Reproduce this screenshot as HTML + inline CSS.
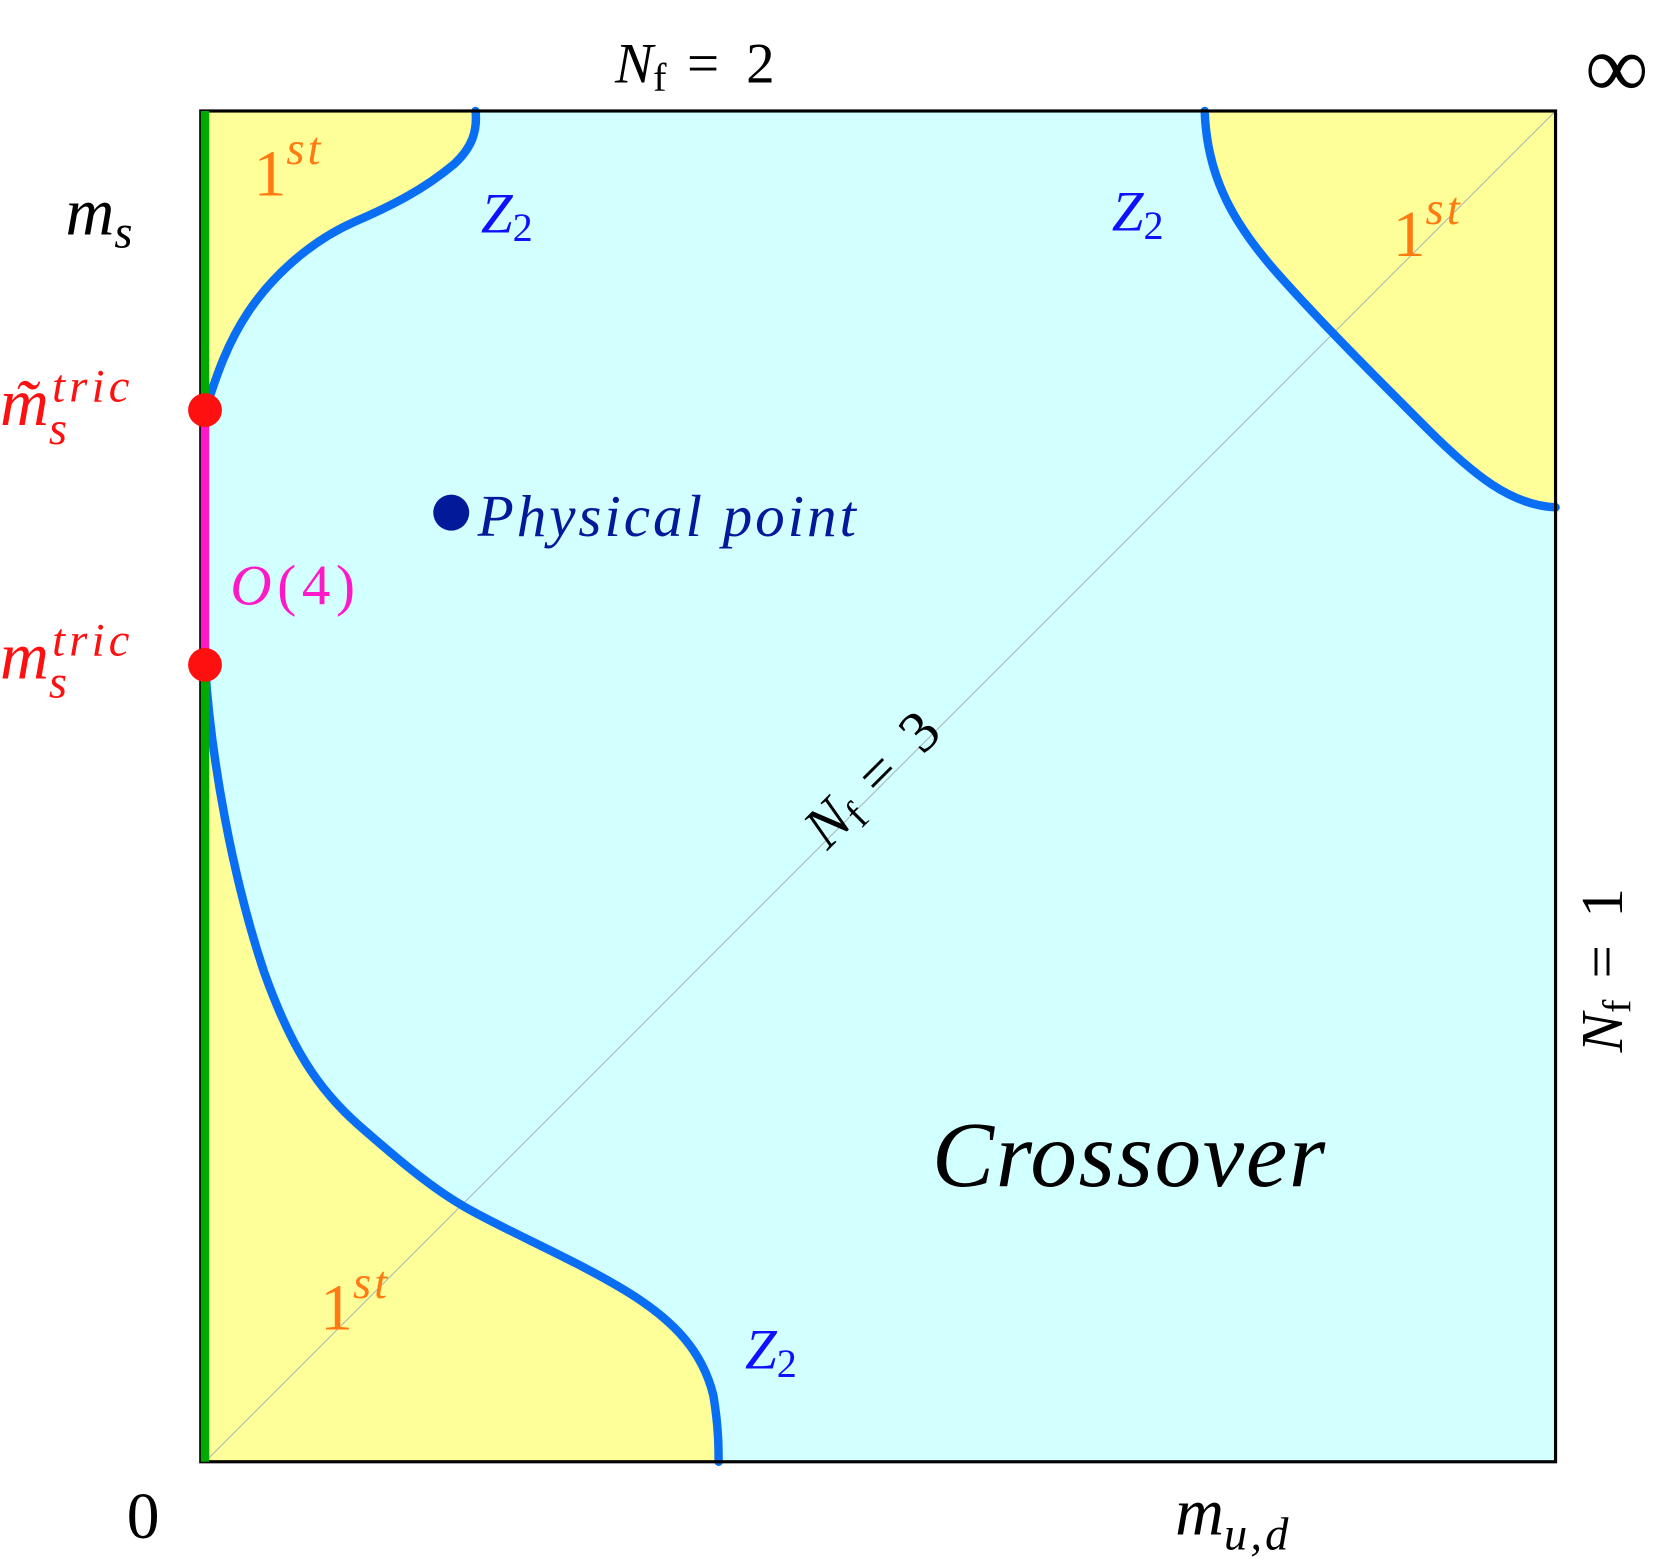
<!DOCTYPE html>
<html><head><meta charset="utf-8"><style>
html,body{margin:0;padding:0;background:#fff;}
svg{display:block;}
text{font-family:"Liberation Serif",serif;}
.it{font-style:italic;}
</style></head><body>
<svg width="1657" height="1559" viewBox="0 0 1568 1475" preserveAspectRatio="none" xmlns="http://www.w3.org/2000/svg">
<rect x="190" y="105" width="1282" height="1278" fill="#d2ffff"/>
<path d="M194,105 L450,105 C452,125 446,140 430,155 C400,180 370,195 335,210 C290,230 255,265 235,295 C215,325 205,355 196,383 Z" fill="#ffff99"/>
<path d="M194,630 C200,720 220,830 250,920 C275,990 300,1030 340,1065 C380,1100 410,1125 440,1142 C480,1165 540,1190 590,1220 C640,1250 665,1280 675,1320 C680,1350 680,1370 680,1383 L194,1383 Z" fill="#ffff99"/>
<path d="M1140,105 C1142,170 1170,215 1210,260 C1250,305 1300,355 1350,405 C1395,450 1430,478 1472,480 L1472,105 Z" fill="#ffff99"/>
<line x1="194" y1="1383" x2="1472" y2="105" stroke="#a8b8b8" stroke-width="1"/>
<g fill="none" stroke="#0a6ef5" stroke-width="8" stroke-linecap="round">
<path d="M196,383 C205,355 215,325 235,295 C255,265 290,230 335,210 C370,195 400,180 430,155 C446,140 452,125 450,105"/>
<path d="M194,630 C200,720 220,830 250,920 C275,990 300,1030 340,1065 C380,1100 410,1125 440,1142 C480,1165 540,1190 590,1220 C640,1250 665,1280 675,1320 C680,1350 680,1370 680,1383"/>
<path d="M1140,105 C1142,170 1170,215 1210,260 C1250,305 1300,355 1350,405 C1395,450 1430,478 1472,480"/>
</g>
<rect x="190" y="105" width="1282" height="1278" fill="none" stroke="#000" stroke-width="3"/>
<line x1="194" y1="105" x2="194" y2="383" stroke="#00aa00" stroke-width="8"/>
<line x1="194" y1="630" x2="194" y2="1383" stroke="#00aa00" stroke-width="8"/>
<line x1="194" y1="388" x2="194" y2="628" stroke="#ff18c8" stroke-width="8"/>
<circle cx="194" cy="388" r="16" fill="#ff1010"/>
<circle cx="194" cy="629" r="16" fill="#ff1010"/>
<circle cx="427" cy="485" r="17" fill="#001a99"/>
<text x="582" y="78" font-size="54"><tspan class="it">N</tspan><tspan font-size="38" dy="8">f</tspan><tspan dy="-8" letter-spacing="6"> = 2</tspan></text>
<text x="1500" y="92" font-size="84">∞</text>
<text x="62" y="222" font-size="64" class="it">m<tspan font-size="44" dy="12">s</tspan></text>
<text x="0" y="402" font-size="64" fill="#ff1010" class="it">m̃<tspan font-size="44" dy="18">s</tspan><tspan font-size="44" dx="-14" dy="-40" letter-spacing="4">tric</tspan></text>
<text x="0" y="642" font-size="64" fill="#ff1010" class="it">m<tspan font-size="44" dy="18">s</tspan><tspan font-size="44" dx="-14" dy="-40" letter-spacing="4">tric</tspan></text>
<text x="240" y="185" font-size="62" fill="#ff7a10">1<tspan font-size="44" class="it" dy="-30" letter-spacing="3">st</tspan></text>
<text x="1318" y="242" font-size="62" fill="#ff7a10">1<tspan font-size="44" class="it" dy="-30" letter-spacing="3">st</tspan></text>
<text x="303" y="1258" font-size="62" fill="#ff7a10">1<tspan font-size="44" class="it" dy="-30" letter-spacing="3">st</tspan></text>
<text x="455" y="220" font-size="54" fill="#1010ff" class="it">Z<tspan font-size="38" font-style="normal" dy="8">2</tspan></text>
<text x="1052" y="218" font-size="54" fill="#1010ff" class="it">Z<tspan font-size="38" font-style="normal" dy="8">2</tspan></text>
<text x="705" y="1295" font-size="54" fill="#1010ff" class="it">Z<tspan font-size="38" font-style="normal" dy="8">2</tspan></text>
<text x="452" y="507" font-size="56" fill="#001a99" class="it" textLength="358" lengthAdjust="spacing">Physical point</text>
<text x="218" y="572" font-size="54" fill="#ff18c8" textLength="118" lengthAdjust="spacing"><tspan class="it">O</tspan>(4)</text>
<text x="882" y="1122" font-size="88" class="it" textLength="372" lengthAdjust="spacing">Crossover</text>
<text x="120" y="1455" font-size="62">0</text>
<text x="1112" y="1452" font-size="64" class="it">m<tspan font-size="44" dy="14" letter-spacing="3">u,d</tspan></text>
<text transform="translate(840,748) rotate(-45)" font-size="56" text-anchor="middle"><tspan class="it">N</tspan><tspan font-size="38" dy="8">f</tspan><tspan dy="-8" letter-spacing="6"> = 3</tspan></text>
<text transform="translate(1535,915) rotate(-90)" font-size="56" text-anchor="middle"><tspan class="it">N</tspan><tspan font-size="38" dy="8">f</tspan><tspan dy="-8" letter-spacing="6"> = 1</tspan></text>
</svg>
</body></html>
